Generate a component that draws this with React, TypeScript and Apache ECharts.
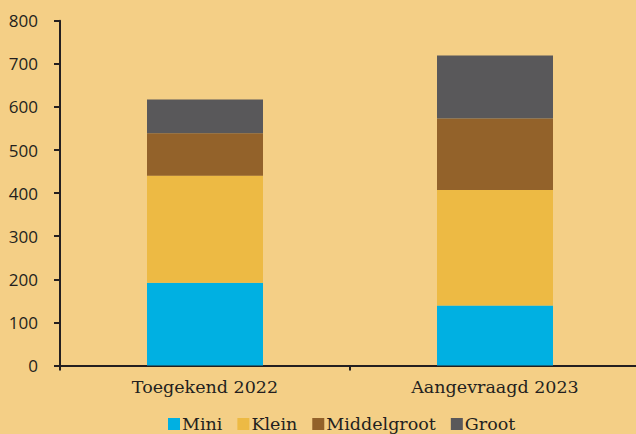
import React, { useEffect, useRef } from "react";
import * as echarts from "echarts";

const categories = ["Toegekend 2022", "Aangevraagd 2023"];
const seriesNames = ["Mini", "Klein", "Middelgroot", "Groot"];
const mini = [192, 139];
const klein = [248, 268];
const middelgroot = [99, 166];
const groot = [78, 146];
const colors = ["#00B0E2", "#EDBA44", "#93622A", "#59585A"];

export default function App() {
  const ref = useRef<HTMLDivElement>(null);
  useEffect(() => {
    const chart = echarts.init(ref.current!, null, { renderer: "svg" });
    const values = [mini, klein, middelgroot, groot];
    chart.setOption({
      animation: false,
      backgroundColor: "#F4CF86",
      grid: { left: 60, width: 580, top: 20.7, bottom: 68.5, containLabel: false },
      legend: {
        top: 415,
        left: 168,
        padding: 0,
        itemWidth: 12,
        itemHeight: 12,
        itemGap: 15,
        icon: "rect",
        textStyle: { fontFamily: "DejaVu Serif", fontSize: 17.5, color: "#231F20", padding: [0, 0, 0, -3] },
        data: seriesNames,
      },
      xAxis: {
        type: "category",
        data: categories,
        axisLine: { lineStyle: { color: "#231F20", width: 2 } },
        axisTick: { show: true, length: 5, lineStyle: { color: "#231F20", width: 2 } },
        axisLabel: { fontFamily: "DejaVu Serif", fontSize: 17.5, color: "#231F20", margin: 12 },
      },
      yAxis: {
        type: "value",
        min: 0,
        max: 800,
        interval: 100,
        splitLine: { show: false },
        axisLine: { show: true, lineStyle: { color: "#231F20", width: 2 } },
        axisTick: { show: true, length: 6, lineStyle: { color: "#231F20", width: 2 } },
        axisLabel: { fontFamily: "Open Sans", fontSize: 17, color: "#231F20", margin: 22 },
      },
      series: seriesNames.map((name, i) => ({
        name,
        type: "bar",
        stack: "total",
        barWidth: "40%",
        data: values[i],
        itemStyle: { color: colors[i] },
      })),
    });
    return () => chart.dispose();
  }, []);
  return (
    <div style={{ width: 636, height: 434, position: "absolute", left: 0, top: 0, overflow: "hidden", background: "#F4CF86" }}>
      <div ref={ref} style={{ width: 644, height: 434 }} />
    </div>
  );
}
